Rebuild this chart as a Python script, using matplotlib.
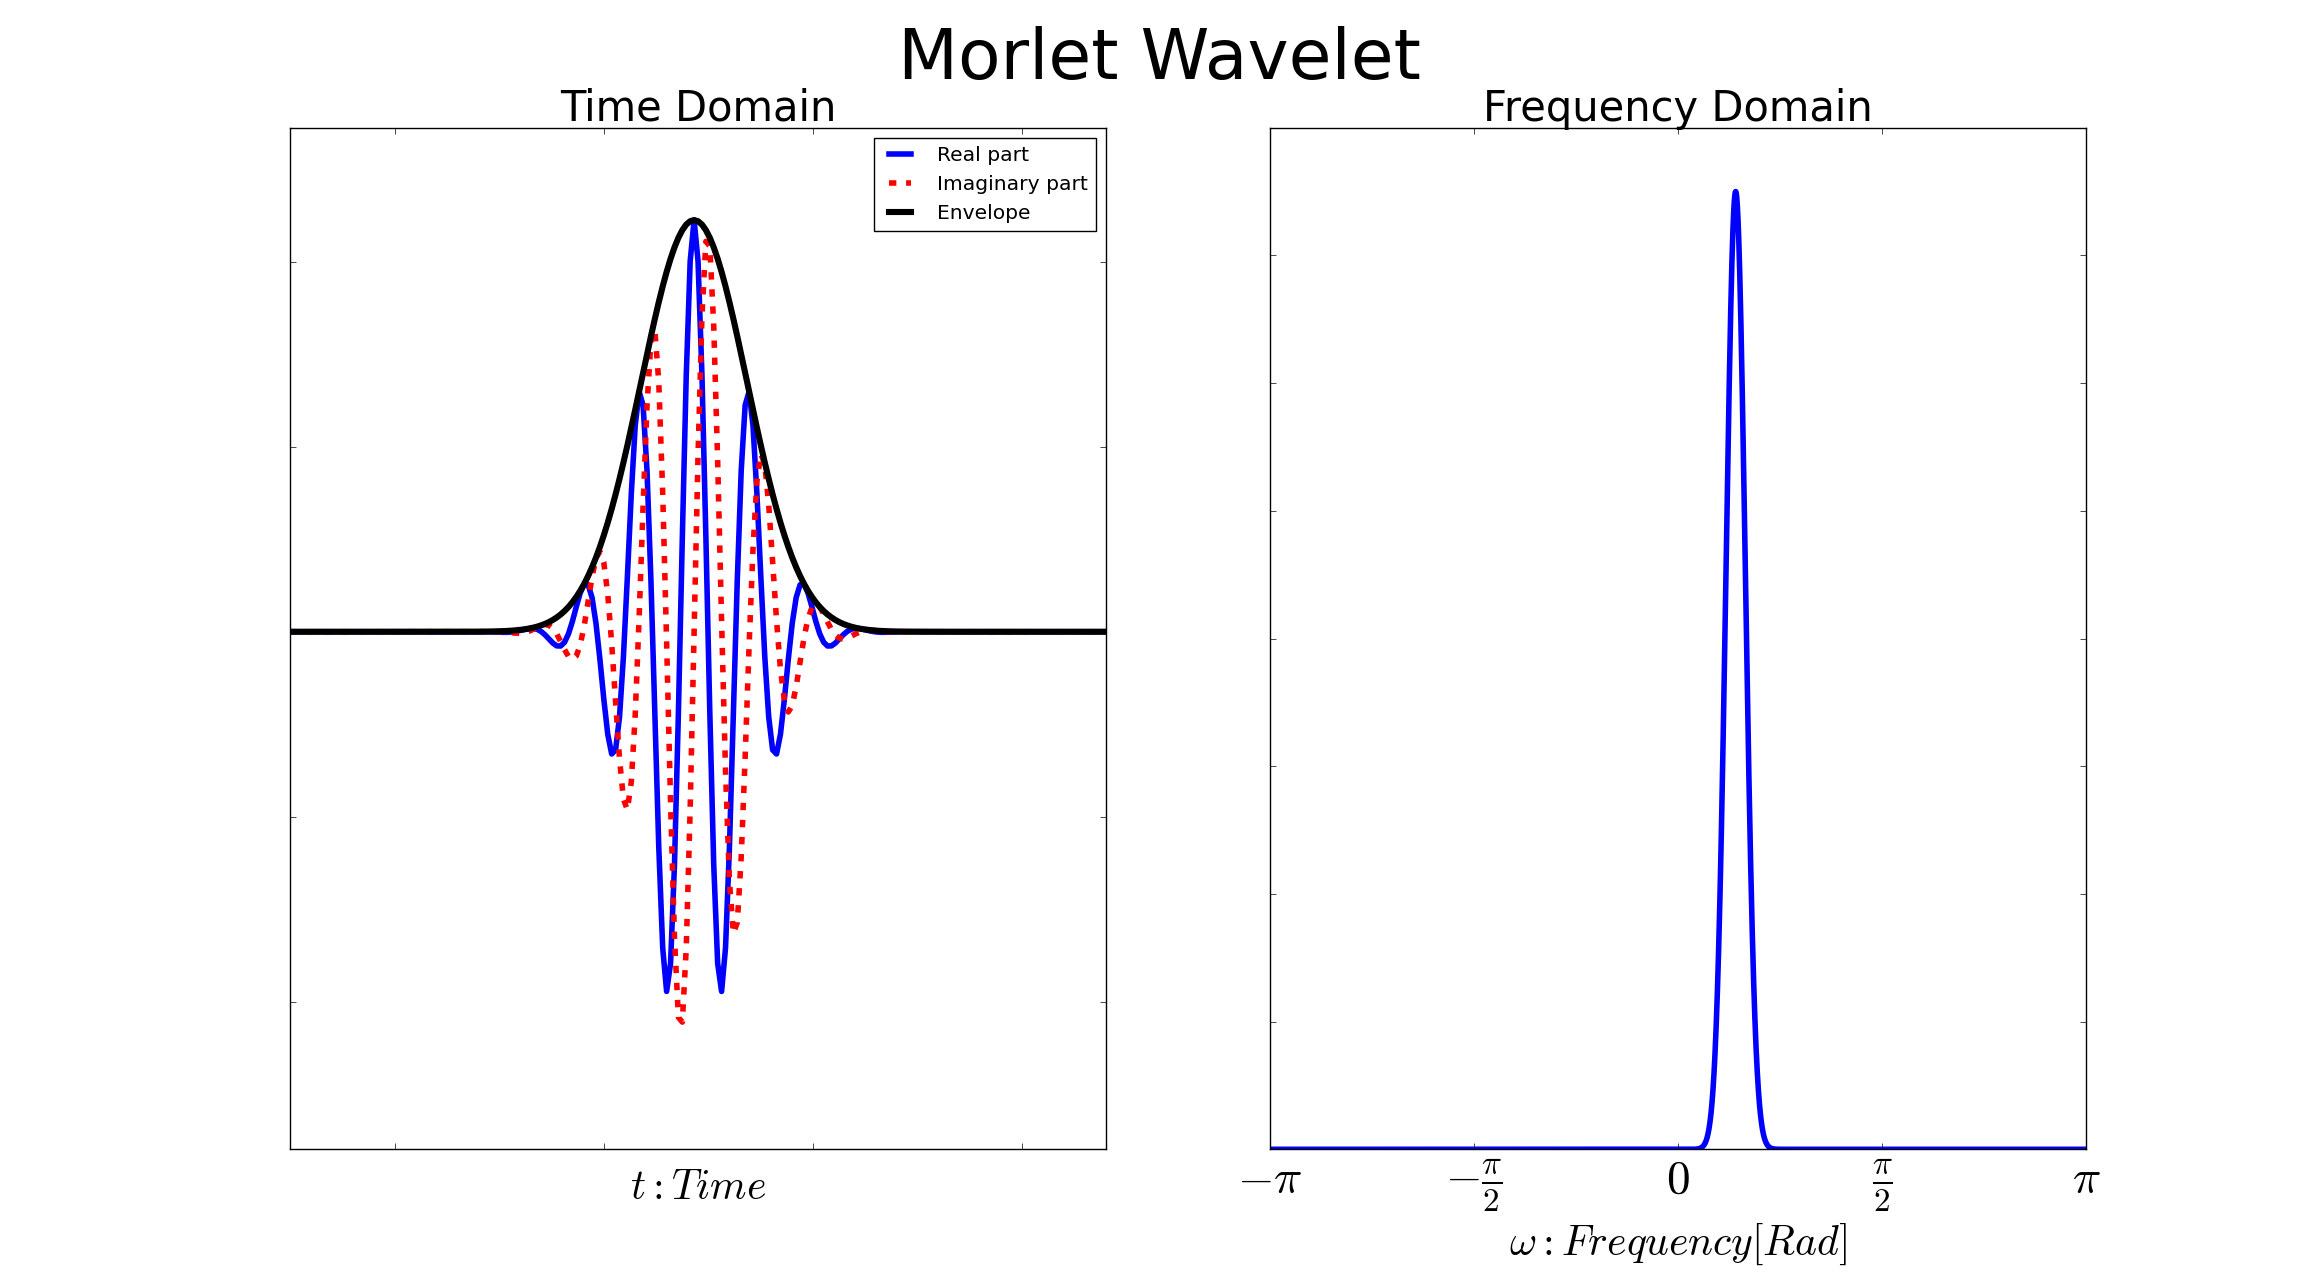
import numpy as np
import matplotlib
matplotlib.use('Agg')
from matplotlib import pyplot as plt

# Morlet parameters
omega0 = 6.0             # carrier, in units of 1/scale
scale = 13.5             # gaussian width, in samples
peak = 2.224             # envelope height at the centre
t0 = 1.43                # centre of the wavelet on the time axis
dt = 0.01878             # time step between samples
samples = np.arange(-103, 106)
freq_peak = 7.5          # top of the spectrum

time_ticks = [0, 1, 2, 3]
amp_ticks = [-2, -1, 0, 1, 2]
amp_lim = (-2.796, 2.723)
freq_ticks = [-np.pi, -np.pi / 2, 0, np.pi / 2, np.pi]
freq_labels = [r'$-\pi$', r'$-\frac{\pi}{2}$', r'$0$', r'$\frac{\pi}{2}$', r'$\pi$']
mag_ticks = list(range(9))
nfft = 4096

plt.style.use('classic')
plt.rcParams['lines.scale_dashes'] = False
plt.rcParams['mathtext.fontset'] = 'cm'

x = samples / scale
envelope = peak * np.exp(-x**2 / 2)
wave = envelope * np.exp(1j * omega0 * x)
t = t0 + samples * dt

spectrum = np.fft.fftshift(np.abs(np.fft.fft(wave, nfft)))
spectrum = spectrum * freq_peak / spectrum.max()
w = np.fft.fftshift(np.fft.fftfreq(nfft)) * 2 * np.pi

fig = plt.figure(figsize=(23.18, 12.77), dpi=100, facecolor='white')
fig.suptitle('Morlet Wavelet', fontsize=50)

ax1 = fig.add_subplot(1, 2, 1)
ax1.plot(t, wave.real, color='b', lw=4.0, label='Real part')
ax1.plot(t, wave.imag, color='r', lw=4.0, ls=(0, (5.3, 7.0)), label='Imaginary part')
ax1.plot(t, envelope, color='k', lw=4.4, label='Envelope')
ax1.set_xlim(t[0], t[-1])
ax1.set_ylim(*amp_lim)
ax1.set_xticks(time_ticks)
ax1.set_yticks(amp_ticks)
ax1.set_xticklabels([])
ax1.set_yticklabels([])
ax1.set_title('Time Domain', fontsize=30)
ax1.set_xlabel(r'$t: Time$', fontsize=30, labelpad=8)
ax1.legend(loc='upper right', fontsize=14.6, handlelength=1.7, handletextpad=1.0)

ax2 = fig.add_subplot(1, 2, 2)
ax2.plot(w, spectrum, color='b', lw=4.0)
ax2.set_xlim(-np.pi, np.pi)
ax2.set_ylim(0, 8)
ax2.set_xticks(freq_ticks)
ax2.set_xticklabels(freq_labels, fontsize=34)
ax2.tick_params(axis='x', pad=6)
ax2.set_yticks(mag_ticks)
ax2.set_yticklabels([])
ax2.set_title('Frequency Domain', fontsize=30)
ax2.set_xlabel(r'$\omega: Frequency[Rad]$', fontsize=30)

fig.savefig('out.png', dpi=100, facecolor='white')
